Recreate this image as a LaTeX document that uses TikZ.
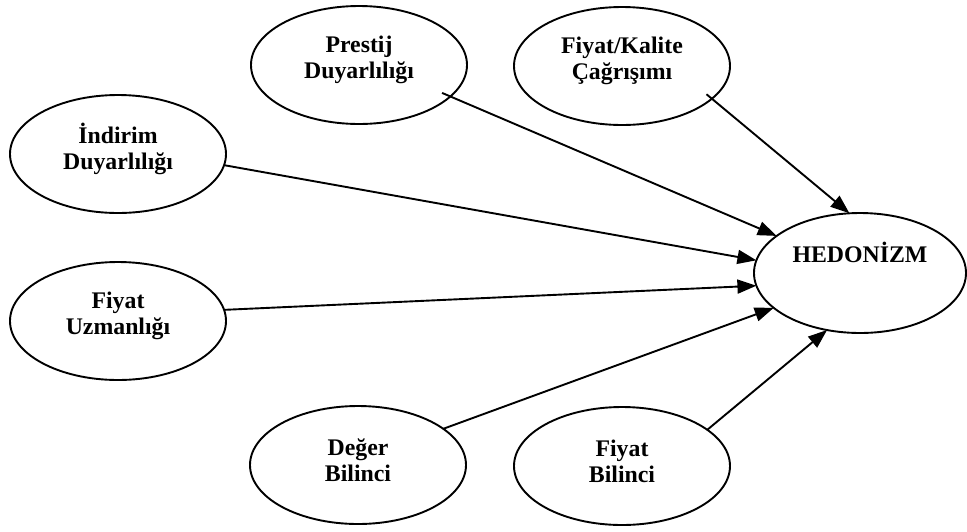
\documentclass[tikz,border=0pt]{standalone}
\usepackage{fontspec}
\setmainfont{Liberation Serif}
\usetikzlibrary{shapes.geometric,arrows.meta}
\begin{document}
\begin{tikzpicture}[x=1pt,y=-1pt,
  oval/.style={draw,ellipse,line width=1.9pt,inner sep=0pt,outer sep=0pt,
               minimum width=216pt,minimum height=118pt},
  lbl/.style={align=center,inner sep=0pt,
              font=\fontsize{23.8}{26}\selectfont\bfseries},
  link/.style={line width=1.9pt,-{Triangle[length=19pt,width=14pt]}}]
\useasboundingbox (0,0) rectangle (967,531);

% constructs
\node[oval] (prestij) at (359,65)  {};
\node[oval] (kalite)  at (622,66)  {};
\node[oval] (indirim) at (118,154) {};
\node[oval] (uzman)   at (118,321) {};
\node[oval] (deger)   at (358,465) {};
\node[oval] (bilinc)  at (622,466) {};
\node[oval,minimum width=212pt,minimum height=120pt] (hedon) at (860,273) {};

% labels
\node[lbl] at ([yshift=5pt]prestij.center) {Prestij\\Duyarlılığı};
\node[lbl] at ([yshift=5pt]kalite.center)  {Fiyat/Kalite\\Çağrışımı};
\node[lbl] at ([yshift=5pt]indirim.center) {İndirim\\Duyarlılığı};
\node[lbl] at ([yshift=5pt]uzman.center)   {Fiyat\\Uzmanlığı};
\node[lbl] at ([yshift=5pt]deger.center)   {Değer\\Bilinci};
\node[lbl] at ([yshift=5pt]bilinc.center)  {Fiyat\\Bilinci};
\node[lbl] at ([yshift=21pt]hedon.center)  {HEDONİZM};

% paths into HEDONİZM
\draw[link,shorten <=-9pt] (prestij.341) -- (hedon.156.6);
\draw[link,shorten <=-7pt] (kalite.340)  -- (hedon.100.2);
\draw[link] (indirim.354.2) -- (hedon.173);
\draw[link] (uzman.6.8)     -- (hedon.187);
\draw[link] (deger.23)      -- (hedon.202.6);
\draw[link] (bilinc.23.8)   -- (hedon.240.9);
\end{tikzpicture}
\end{document}
